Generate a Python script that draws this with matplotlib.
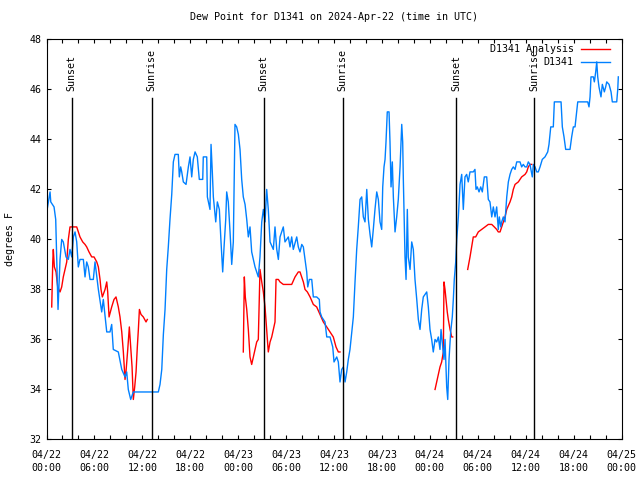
import datetime
import numpy as np
import matplotlib
matplotlib.use("Agg")
import matplotlib.pyplot as plt
import matplotlib.dates as mdates

# Plot colour defaults
c_STR_OBS_COLOR = "#0080ff"
c_STR_ANA_COLOR = "#ff0000"
c_STR_FONT = "DejaVu Sans Mono"

str_title = "Dew Point for D1341 on 2024-Apr-22 (time in UTC)"
str_y_label = "degrees F"
str_obs_label = "D1341"
str_ana_label = "D1341 Analysis"

# Observed dew point (hours after 04/22 00:00 UTC, degrees F)
lf_obs_hours = [
  0.03, 0.44, 0.53, 0.94, 1.15, 1.44, 1.69, 1.90, 2.10, 2.44, 2.73, 2.94, 3.16, 3.36, 3.57, 3.78,
  3.98, 4.19, 4.61, 4.82, 5.03, 5.23, 5.45, 5.86, 6.07, 6.49, 6.91, 7.11, 7.54, 7.95, 8.16, 8.36,
  8.99, 9.42, 9.83, 10.04, 10.24, 10.54, 10.87, 11.71, 12.96, 14.00, 14.21, 14.43, 14.63, 14.84,
  15.05, 15.25, 15.46, 15.68, 15.88, 16.09, 16.50, 16.63, 16.80, 16.93, 17.13, 17.47, 17.76, 17.97,
  18.18, 18.38, 18.60, 18.88, 19.13, 19.56, 19.63, 20.06, 20.14, 20.47, 20.60, 20.76, 20.89, 21.01,
  21.19, 21.39, 21.64, 21.85, 22.06, 22.23, 22.44, 22.56, 22.76, 22.98, 23.19, 23.39, 23.60, 23.81,
  24.02, 24.23, 24.44, 24.64, 24.86, 25.07, 25.27, 25.48, 25.69, 25.90, 26.11, 26.32, 26.52, 26.73,
  26.95, 27.15, 27.36, 27.57, 27.77, 27.99, 28.40, 28.61, 28.83, 29.03, 29.24, 29.65, 29.86, 30.28,
  30.49, 30.70, 30.90, 31.33, 31.53, 31.74, 31.96, 32.16, 32.37, 32.58, 32.71, 32.91, 33.21, 33.41,
  33.83, 34.16, 34.25, 34.46, 34.66, 34.87, 35.09, 35.50, 35.84, 36.00, 36.34, 36.54, 36.75, 36.96,
  37.17, 37.38, 37.59, 37.79, 38.00, 38.22, 38.42, 38.63, 38.84, 39.04, 39.26, 39.47, 39.67, 39.88,
  40.10, 40.30, 40.51, 40.72, 40.92, 41.13, 41.35, 41.55, 41.76, 41.97, 42.10, 42.26, 42.39, 42.51,
  42.67, 42.89, 43.01, 43.14, 43.30, 43.43, 43.64, 43.85, 44.05, 44.27, 44.48, 44.60, 44.68, 44.89,
  45.02, 45.18, 45.30, 45.52, 45.73, 45.93, 46.14, 46.36, 46.56, 46.77, 46.98, 47.18, 47.61, 47.81,
  48.02, 48.23, 48.43, 48.65, 48.86, 49.06, 49.27, 49.40, 49.61, 49.77, 49.90, 50.11, 50.24, 50.40,
  50.61, 50.81, 50.94, 51.06, 51.24, 51.37, 51.57, 51.78, 51.99, 52.19, 52.40, 52.61, 52.81, 53.03,
  53.44, 53.65, 53.78, 53.94, 54.16, 54.37, 54.57, 54.82, 55.12, 55.32, 55.53, 55.75, 55.95, 56.16,
  56.37, 56.57, 56.70, 56.88, 57.00, 57.20, 57.41, 57.63, 57.83, 58.04, 58.25, 58.45, 58.67, 58.88,
  59.29, 59.50, 59.70, 59.92, 60.13, 60.33, 60.54, 60.83, 60.96, 61.17, 61.38, 61.58, 61.80, 62.08,
  62.42, 62.76, 62.92, 63.14, 63.46, 63.59, 64.43, 64.59, 64.80, 65.01, 65.55, 65.76, 65.97, 66.18,
  66.52, 67.77, 67.93, 68.06, 68.18, 68.47, 68.60, 68.77, 68.90, 69.02, 69.18, 69.43, 69.60, 69.85,
  70.02, 70.15, 70.44, 70.69, 70.85, 71.40, 71.53, 71.60 ]
lf_obs_values = [
  41.1, 41.9, 41.5, 41.3, 40.8, 37.2, 39.2, 40.0, 39.9, 39.3, 39.2, 39.6, 39.3, 40.1, 40.3, 39.9,
  38.9, 39.2, 39.2, 38.5, 39.1, 38.9, 38.4, 38.4, 39.1, 38.0, 37.1, 37.6, 36.3, 36.3, 36.6, 35.6,
  35.5, 34.8, 34.5, 34.7, 34.0, 33.6, 33.9, 33.9, 33.9, 33.9, 34.2, 34.8, 36.2, 37.2,
  38.8, 39.7, 40.8, 41.8, 43.1, 43.4, 43.4, 42.5, 42.9, 42.7, 42.3, 42.2, 42.9, 43.3,
  42.5, 43.2, 43.5, 43.3, 42.4, 42.4, 43.3, 43.3, 41.7, 41.2, 43.8, 42.7, 41.7, 41.3,
  40.7, 41.5, 41.2, 39.9, 38.7, 39.7, 40.8, 41.9, 41.5, 40.3, 39.0, 39.9, 44.6, 44.5,
  44.2, 43.6, 42.4, 41.7, 41.4, 40.8, 40.1, 40.5, 39.5, 39.2, 38.9, 38.7, 38.5, 39.3,
  40.7, 41.2, 40.7, 42.0, 41.2, 39.9, 39.6, 40.5, 39.6, 39.2, 40.1, 40.5, 39.9, 40.1,
  39.7, 40.1, 39.6, 40.1, 39.7, 39.5, 39.8, 39.7, 39.2, 38.7, 38.1, 38.4, 38.4, 37.7,
  37.7, 37.6, 37.1, 36.9, 36.8, 36.7, 36.1, 36.1, 35.7, 35.1, 35.3, 35.1, 34.3, 34.8,
  34.9, 34.3, 34.7, 35.2, 35.6, 36.3, 36.9, 38.3, 39.6, 40.5, 41.6, 41.7, 40.9, 40.7,
  42.0, 40.8, 40.2, 39.7, 40.4, 41.2, 41.9, 41.6, 40.7, 40.4, 42.1, 42.9, 43.2, 43.9,
  45.1, 45.1, 43.9, 42.1, 43.1, 41.7, 40.3, 40.9, 41.6, 42.9, 44.6, 43.9, 42.4, 39.3,
  38.4, 41.2, 39.3, 38.8, 39.9, 39.6, 38.4, 37.6, 36.8, 36.4, 37.2, 37.7, 37.9, 37.3,
  36.4, 36.0, 35.5, 36.0, 35.9, 36.1, 35.6, 36.4, 35.7, 35.2, 36.0, 34.1, 33.6, 35.2,
  36.3, 36.9, 37.6, 38.4, 39.1, 40.0, 40.9, 42.2, 42.6, 41.2, 42.5, 42.6, 42.3, 42.7,
  42.7, 42.8, 42.0, 42.1, 41.9, 42.1, 41.9, 42.5, 42.5, 41.6, 41.5, 40.9, 41.3, 40.9,
  41.3, 40.4, 40.9, 40.5, 40.7, 40.9, 40.7, 41.7, 42.3, 42.6, 42.8, 42.9, 42.8, 43.1,
  43.1, 42.9, 43.0, 42.9, 42.9, 43.1, 43.0, 42.5, 43.0, 42.9, 42.7, 42.7, 42.9, 43.2,
  43.3, 43.5, 43.8, 44.5, 44.5, 45.5, 45.5, 44.5, 44.1, 43.6, 43.6, 44.1, 44.5, 44.5,
  45.5, 45.5, 45.3, 45.7, 46.5, 46.5, 46.3, 46.7, 47.1, 46.5, 46.1, 45.7, 46.2, 45.9,
  46.1, 46.3, 46.2, 45.9, 45.5, 45.5, 46.0, 46.5 ]

# Analysis dew point, nan marks gaps between the analysis runs
f_nan = np.nan
lf_ana_hours = [
  0.65, 0.78, 0.85, 0.98, 1.19, 1.40, 1.69, 1.90, 2.10, 2.32, 2.53, 2.73, 2.94, 3.36, 3.78, 3.98,
  4.19, 4.53, 4.82, 5.03, 5.32, 5.66, 5.95, 6.29, 6.49, 6.70, 6.82, 6.99, 7.33, 7.54, 7.66, 7.83,
  8.16, 8.45, 8.70, 8.99, 9.20, 9.42, 9.62, 9.83, 9.95, 10.17, 10.37, 10.54, 10.71, 10.87, 11.04,
  11.21, 11.37, 11.50, 11.63, 11.83, 12.12, 12.46, 12.62, 18.0,
  24.64, 24.77, 24.89, 25.07, 25.27, 25.48, 25.69, 25.90, 26.11, 26.32, 26.52, 26.73, 26.95, 27.15,
  27.36, 27.57, 27.77, 27.99, 28.20, 28.40, 28.61, 28.74, 29.03, 29.24, 29.65, 30.28, 30.70, 31.12,
  31.53, 31.74, 32.16, 32.37, 32.66, 33.00, 33.41, 33.83, 34.25, 34.66, 35.09, 35.50, 35.91, 36.25,
  36.54, 36.75, 42.0,
  48.65, 48.86, 49.06, 49.27, 49.48, 49.69, 49.77, 49.90, 50.02, 50.18, 50.31, 50.53, 50.74, 50.86,
  51.8,
  52.74, 53.03, 53.24, 53.44, 53.74, 54.07, 54.50, 54.91, 55.32, 55.75, 56.07, 56.37, 56.57, 56.79,
  57.00, 57.20, 57.41, 57.63, 58.04, 58.25, 58.45, 58.67, 59.08, 59.50, 59.92, 60.13, 60.33, 60.54,
  60.76 ]
lf_ana_values = [
  37.3, 39.1, 39.6, 38.9, 38.7, 38.1, 37.9, 38.1, 38.5, 38.8, 39.1, 40.0, 40.5, 40.5, 40.5, 40.3,
  40.1, 39.9, 39.8, 39.7, 39.5, 39.3, 39.3, 39.1, 38.9, 38.4, 38.0, 37.7, 38.0, 38.3, 37.9, 36.9,
  37.3, 37.6, 37.7, 37.3, 36.9, 36.3, 35.5, 34.4, 34.7, 35.6, 36.5, 35.7, 34.9, 33.6, 34.1,
  34.7, 35.7, 36.4, 37.2, 37.0, 36.9, 36.7, 36.8, f_nan,
  35.5, 38.5, 37.7, 37.2, 36.4, 35.3, 35.0, 35.3, 35.6, 35.9, 36.0, 38.8, 38.3, 37.9,
  37.3, 36.4, 35.5, 35.9, 36.1, 36.4, 36.7, 38.4, 38.4, 38.3, 38.2, 38.2, 38.2, 38.5,
  38.7, 38.7, 38.3, 38.0, 37.9, 37.7, 37.4, 37.3, 37.0, 36.7, 36.5, 36.3, 36.1, 35.7,
  35.5, 35.5, f_nan,
  34.0, 34.3, 34.6, 34.9, 35.1, 35.5, 38.3, 38.0, 37.6, 37.1, 36.8, 36.4, 36.1, 36.1,
  f_nan,
  38.8, 39.3, 39.7, 40.1, 40.1, 40.3, 40.4, 40.5, 40.6, 40.6, 40.5, 40.4, 40.3, 40.3,
  40.5, 40.7, 40.9, 41.2, 41.5, 41.7, 42.0, 42.2, 42.3, 42.5, 42.6, 42.7, 42.9, 43.0,
  43.0 ]

# Sun events (hours after 04/22 00:00 UTC)
lf_sun_hours = [ 3.13, 13.18, 27.20, 37.08, 51.27, 61.10 ]
lstr_sun_labels = [ "Sunset", "Sunrise", "Sunset", "Sunrise", "Sunset", "Sunrise" ]

# Axis limits
dt_start = datetime.datetime( 2024, 4, 22 )
dt_stop = datetime.datetime( 2024, 4, 25 )
f_y_min = 32
f_y_max = 48


def func_to_time( lf_hours ):
  return( [ dt_start + datetime.timedelta( hours = f_hour ) for f_hour in lf_hours ] )


plt.rcParams[ "font.family" ] = [ c_STR_FONT ]
plt.rcParams[ "font.size" ] = 7.2

plt_cur = plt.figure( figsize = ( 6.4, 4.8 ), dpi = 100 )
ax = plt_cur.add_axes( [ 0.0727, 0.0844, 0.8984, 0.8336 ] )

ax.plot( func_to_time( lf_ana_hours ), lf_ana_values, color = c_STR_ANA_COLOR, linewidth = 1.0 )
ax.plot( func_to_time( lf_obs_hours ), lf_obs_values, color = c_STR_OBS_COLOR, linewidth = 1.0 )

# Sunrise / sunset markers
f_line_top = 45.64
for dt_sun, str_sun in zip( func_to_time( lf_sun_hours ), lstr_sun_labels ):
  ax.plot( [ dt_sun, dt_sun ], [ f_y_min, f_line_top ], color = "black", linewidth = 1.0 )
  ax.text( dt_sun, f_line_top + 0.28, str_sun, rotation = 90, ha = "center", va = "bottom",
           fontsize = 7.2 )

# Legend drawn by hand so the labels are right justified like the original
ax.text( 0.917, 0.976, str_ana_label, transform = ax.transAxes, ha = "right", va = "center" )
ax.text( 0.917, 0.944, str_obs_label, transform = ax.transAxes, ha = "right", va = "center" )
ax.plot( [ 0.930, 0.980 ], [ 0.976, 0.976 ], transform = ax.transAxes, color = c_STR_ANA_COLOR, linewidth = 1.0 )
ax.plot( [ 0.930, 0.980 ], [ 0.944, 0.944 ], transform = ax.transAxes, color = c_STR_OBS_COLOR, linewidth = 1.0 )

# Axes
ax.set_xlim( dt_start, dt_stop )
ax.set_ylim( f_y_min, f_y_max )
ax.set_yticks( range( f_y_min, f_y_max + 1, 2 ) )
ax.xaxis.set_major_locator( mdates.HourLocator( byhour = range( 0, 24, 6 ) ) )
ax.xaxis.set_minor_locator( mdates.HourLocator( byhour = range( 0, 24, 2 ) ) )
ax.xaxis.set_major_formatter( mdates.DateFormatter( "%m/%d\n%H:%M" ) )
ax.tick_params( which = "both", direction = "in", top = True, right = True, length = 3.2, width = 0.8,
                labelsize = 7.2 )
ax.tick_params( axis = "x", which = "major", pad = 7.5 )
for lbl_tick in ax.get_xticklabels():
  lbl_tick.set_linespacing( 1.4 )
for str_side in ax.spines:
  ax.spines[ str_side ].set_linewidth( 0.8 )

# Annotate plot
ax.set_title( str_title, fontsize = 7.2, pad = 14 )
ax.set_ylabel( str_y_label, fontsize = 7.2 )
ax.yaxis.set_label_coords( -0.054, 0.5 )
plt.savefig( "out.png", dpi = 100 )
plt.close()
